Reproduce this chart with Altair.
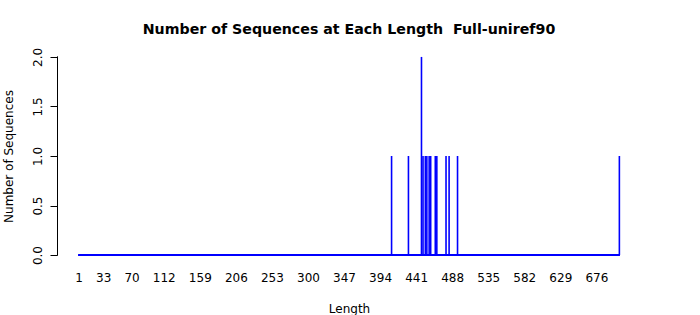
import altair as alt
import pandas as pd

# Data
lengths = [409, 431, 448, 450, 453, 455, 458, 460, 466, 468, 480, 484, 495, 706]
counts = [1, 1, 2, 1, 1, 1, 1, 1, 1, 1, 1, 1, 1, 1]
x_tick_labels = [1, 33, 70, 112, 159, 206, 253, 300, 347, 394, 441, 488, 535, 582, 629, 676]
y_tick_values = [0, 0.5, 1, 1.5, 2]
min_length = 1
max_length = max(lengths)

df = pd.DataFrame({"Length": lengths, "Count": counts})

span = max_length - min_length
x_dom = [min_length - 0.04 * span, max_length + 0.04 * span]
y_dom = [-0.08, 2.08]

FONT = "DejaVu Sans"
BLUE = "#0000FF"

xscale = alt.Scale(domain=x_dom, nice=False, zero=False)
yscale = alt.Scale(domain=y_dom, nice=False, zero=False)

xaxis = alt.Axis(values=x_tick_labels, title="Length", domain=False, ticks=False,
                 tickSize=0, grid=False, labelPadding=9, titlePadding=20,
                 labelFontSize=12, titleFontSize=12, labelFont=FONT, titleFont=FONT,
                 labelColor="black", titleColor="black", titleFontWeight="normal",
                 labelOverlap=False, labelFlush=False, labelBound=False)
yaxis = alt.Axis(values=y_tick_values, format=".1f", title="Number of Sequences",
                 domain=False, ticks=True, tickSize=7, tickColor="black", grid=False,
                 labelAngle=270, labelPadding=6, titlePadding=16,
                 labelFontSize=12, titleFontSize=12, labelFont=FONT, titleFont=FONT,
                 labelColor="black", titleColor="black", titleFontWeight="normal",
                 labelOverlap=False, labelFlush=False, labelBound=False)

spikes = alt.Chart(df).mark_rule(color=BLUE, strokeWidth=1.6).encode(
    x=alt.X("Length:Q", scale=xscale, axis=xaxis),
    y=alt.Y("Count:Q", scale=yscale, axis=yaxis),
    y2=alt.Y2(datum=0),
)

baseline = alt.Chart(df).mark_rule(color=BLUE, strokeWidth=1).encode(
    x=alt.X(datum=min_length, scale=xscale, axis=xaxis),
    x2=alt.X2(datum=max_length),
    y=alt.Y(datum=0, scale=yscale, axis=yaxis),
)

yline = alt.Chart(df).mark_rule(color="black", strokeWidth=1).encode(
    x=alt.value(0.5),
    y=alt.Y(datum=y_tick_values[0], scale=yscale, axis=yaxis),
    y2=alt.Y2(datum=y_tick_values[-1]),
)

chart = alt.layer(spikes, baseline, yline).properties(
    width=584,
    height=214,
    title=alt.TitleParams(
        "Number of Sequences at Each Length\u00a0\u00a0Full-uniref90",
        font=FONT, fontSize=14.2, fontWeight="bold", color="black",
        anchor="middle", offset=10,
    ),
    autosize=alt.AutoSizeParams(type="none"),
    padding={"left": 57, "top": 49, "right": 59, "bottom": 52},
).configure(background="white").configure_view(stroke=None)

chart.save("out.html", embed_options={"renderer": "svg", "actions": False})
